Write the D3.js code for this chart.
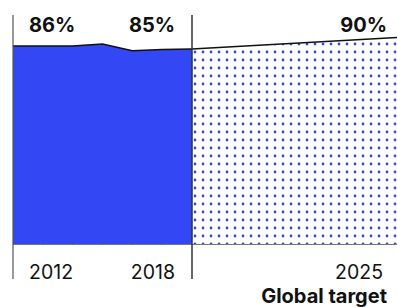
<!DOCTYPE html>
<html>
<head>
<meta charset="utf-8">
<script src="https://cdn.jsdelivr.net/npm/d3@7"></script>
<style>
  body { margin: 0; background: #fff; }
  svg { display: block; font-family: Inter, "Noto Sans", sans-serif; }
</style>
</head>
<body>
<div id="chart"></div>
<script>
var years = [2012, 2013, 2014, 2015, 2016, 2017, 2018];
var coverage = [86.3, 86.3, 86.3, 87.2, 84.2, 84.8, 85.0];
var target = [{ year: 2018, value: 85.0 }, { year: 2025, value: 90 }];
var valueLabels = ["86%", "85%", "90%"];
var yearLabels = ["2012", "2018", "2025"];

var W = 397, H = 307;
var blue = "#3447f5";

var svg = d3.select("#chart").append("svg")
    .attr("width", W)
    .attr("height", H);

var x = d3.scaleLinear().domain([2012, 2018, 2025]).range([13, 192, 397]);
var y = d3.scaleLinear().domain([0, 100]).range([244.5, 14.5]);

var hist = years.map(function (d, i) { return { year: d, value: coverage[i] }; });

//dotted pattern for the target period
var defs = svg.append("defs");
var pat = defs.append("pattern")
    .attr("id", "dots")
    .attr("patternUnits", "userSpaceOnUse")
    .attr("x", 0).attr("y", 1)
    .attr("width", 8).attr("height", 8);
pat.append("circle")
    .attr("cx", 3).attr("cy", 3)
    .attr("r", 1.4)
    .attr("fill", blue);

var area = d3.area()
    .x(function (d) { return x(d.year); })
    .y0(y(0))
    .y1(function (d) { return y(d.value); });

var line = d3.line()
    .x(function (d) { return x(d.year); })
    .y(function (d) { return y(d.value); });

svg.append("path").datum(target)
    .attr("d", area)
    .attr("fill", "url(#dots)");

svg.append("path").datum(hist)
    .attr("d", area)
    .attr("fill", blue);

//bottom axis line
svg.append("line")
    .attr("x1", x(2012)).attr("x2", W)
    .attr("y1", y(0)).attr("y2", y(0))
    .attr("stroke", "#777").attr("stroke-width", 1.2);

//small ticks
svg.selectAll(".tk").data(years.slice(1, -1)).enter().append("line")
    .attr("class", "tk")
    .attr("x1", function (d) { return x(d); }).attr("x2", function (d) { return x(d); })
    .attr("y1", y(0) - 2).attr("y2", y(0))
    .attr("stroke", "#555").attr("stroke-width", 1);

svg.append("path").datum(hist)
    .attr("d", line)
    .attr("fill", "none")
    .attr("stroke", "#111").attr("stroke-width", 1.5);

svg.append("path").datum(target)
    .attr("d", line)
    .attr("fill", "none")
    .attr("stroke", "#111").attr("stroke-width", 1.3);

//vertical guide lines
svg.append("line")
    .attr("x1", x(2012)).attr("x2", x(2012))
    .attr("y1", 15).attr("y2", 279)
    .attr("stroke", "#555").attr("stroke-width", 1.2);
svg.append("line")
    .attr("x1", x(2018)).attr("x2", x(2018))
    .attr("y1", 15).attr("y2", 279)
    .attr("stroke", "#333").attr("stroke-width", 1.5);

//value labels
var lblPos = [
    { x: x(2012) + 16, anchor: "start" },
    { x: x(2018) - 17, anchor: "end" },
    { x: x(2025) - 10, anchor: "end" }
];

svg.selectAll(".val").data(valueLabels).enter().append("text")
    .attr("class", "val")
    .attr("x", function (d, i) { return lblPos[i].x; })
    .attr("y", 32)
    .attr("text-anchor", function (d, i) { return lblPos[i].anchor; })
    .attr("font-size", 20)
    .attr("font-weight", 700)
    .attr("fill", "#111")
    .text(function (d) { return d; });

var yrPos = [
    { x: x(2012) + 16, anchor: "start" },
    { x: x(2018) - 17, anchor: "end" },
    { x: x(2025) - 14, anchor: "end" }
];

svg.selectAll(".yr").data(yearLabels).enter().append("text")
    .attr("class", "yr")
    .attr("x", function (d, i) { return yrPos[i].x; })
    .attr("y", 279)
    .attr("text-anchor", function (d, i) { return yrPos[i].anchor; })
    .attr("font-size", 19.5)
    .attr("font-weight", 400)
    .attr("fill", "#111")
    .text(function (d) { return d; });

svg.append("text")
    .attr("x", x(2025) - 10)
    .attr("y", 303)
    .attr("text-anchor", "end")
    .attr("font-size", 20)
    .attr("font-weight", 700)
    .attr("fill", "#111")
    .text("Global target");
</script>
</body>
</html>
